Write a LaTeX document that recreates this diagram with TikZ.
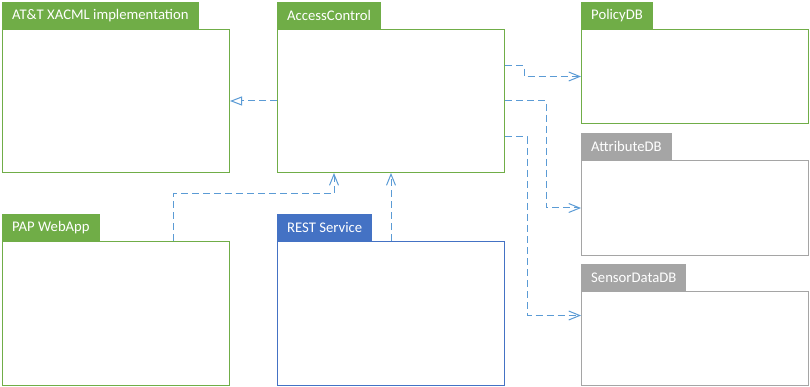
\documentclass[tikz,border=0pt]{standalone}
\usepackage{fontspec}
\setmainfont{Carlito}
\usetikzlibrary{arrows.meta}

\definecolor{boxgreen}{HTML}{70AD47}
\definecolor{boxgray}{HTML}{A5A5A5}
\definecolor{boxblue}{HTML}{4472C4}
\definecolor{linkblue}{HTML}{5B9BD5}

\tikzset{
  body/.style={draw=#1, fill=white, line width=1pt, minimum width=227pt,
    anchor=north west, inner sep=0pt},
  tab/.style={fill=#1, text=white, anchor=south west, minimum height=27pt,
    inner xsep=10pt, inner ysep=0pt, font=\fontsize{14.7}{17}\selectfont},
  link/.style={draw=linkblue, line width=1pt, dash pattern=on 7pt off 4pt},
  dep/.style={link, -{Straight Barb[length=11pt,width=9pt]}},
  realize/.style={link, -{Triangle[open,length=12pt,width=9pt,fill=white]}}
}

\begin{document}
\begin{tikzpicture}[x=1pt, y=-1pt]
  \useasboundingbox (0,0) rectangle (810,387);

  % Components with their title tabs
  \foreach \name/\x/\y/\h/\col/\title in {
      att/2/29/143/boxgreen/{AT\&T XACML implementation},
      ac/277/29/143/boxgreen/{AccessControl},
      policy/581/29/94/boxgreen/{PolicyDB},
      attr/581/160/95/boxgray/{AttributeDB},
      sensor/581/291/94/boxgray/{SensorDataDB},
      pap/2/241/144/boxgreen/{PAP WebApp},
      rest/277/241/144/boxblue/{REST Service}}
  {
    \node[body=\col, minimum height=\h pt] (\name) at (\x,\y) {};
    \node[tab=\col] (\name-tab) at (\name.north west) {\title};
  }

  % AccessControl realises the XACML implementation
  \draw[realize] (ac) -- (att);

  % Dependencies on the databases
  \draw[dep] ([yshift=35pt]ac.east) -- ++(19,0) |- (policy);
  \draw[dep] (ac.east) -- ++(41,0) |- (attr);
  \draw[dep] ([yshift=-36pt]ac.east) -- ++(22,0) |- ([yshift=23pt]sensor.west);

  % Clients of AccessControl
  \draw[dep] ([xshift=57pt]pap.north) -- ++(0,-47) -| ([xshift=-57pt]ac.south);
  \draw[dep] (rest) -- (ac);
\end{tikzpicture}
\end{document}
